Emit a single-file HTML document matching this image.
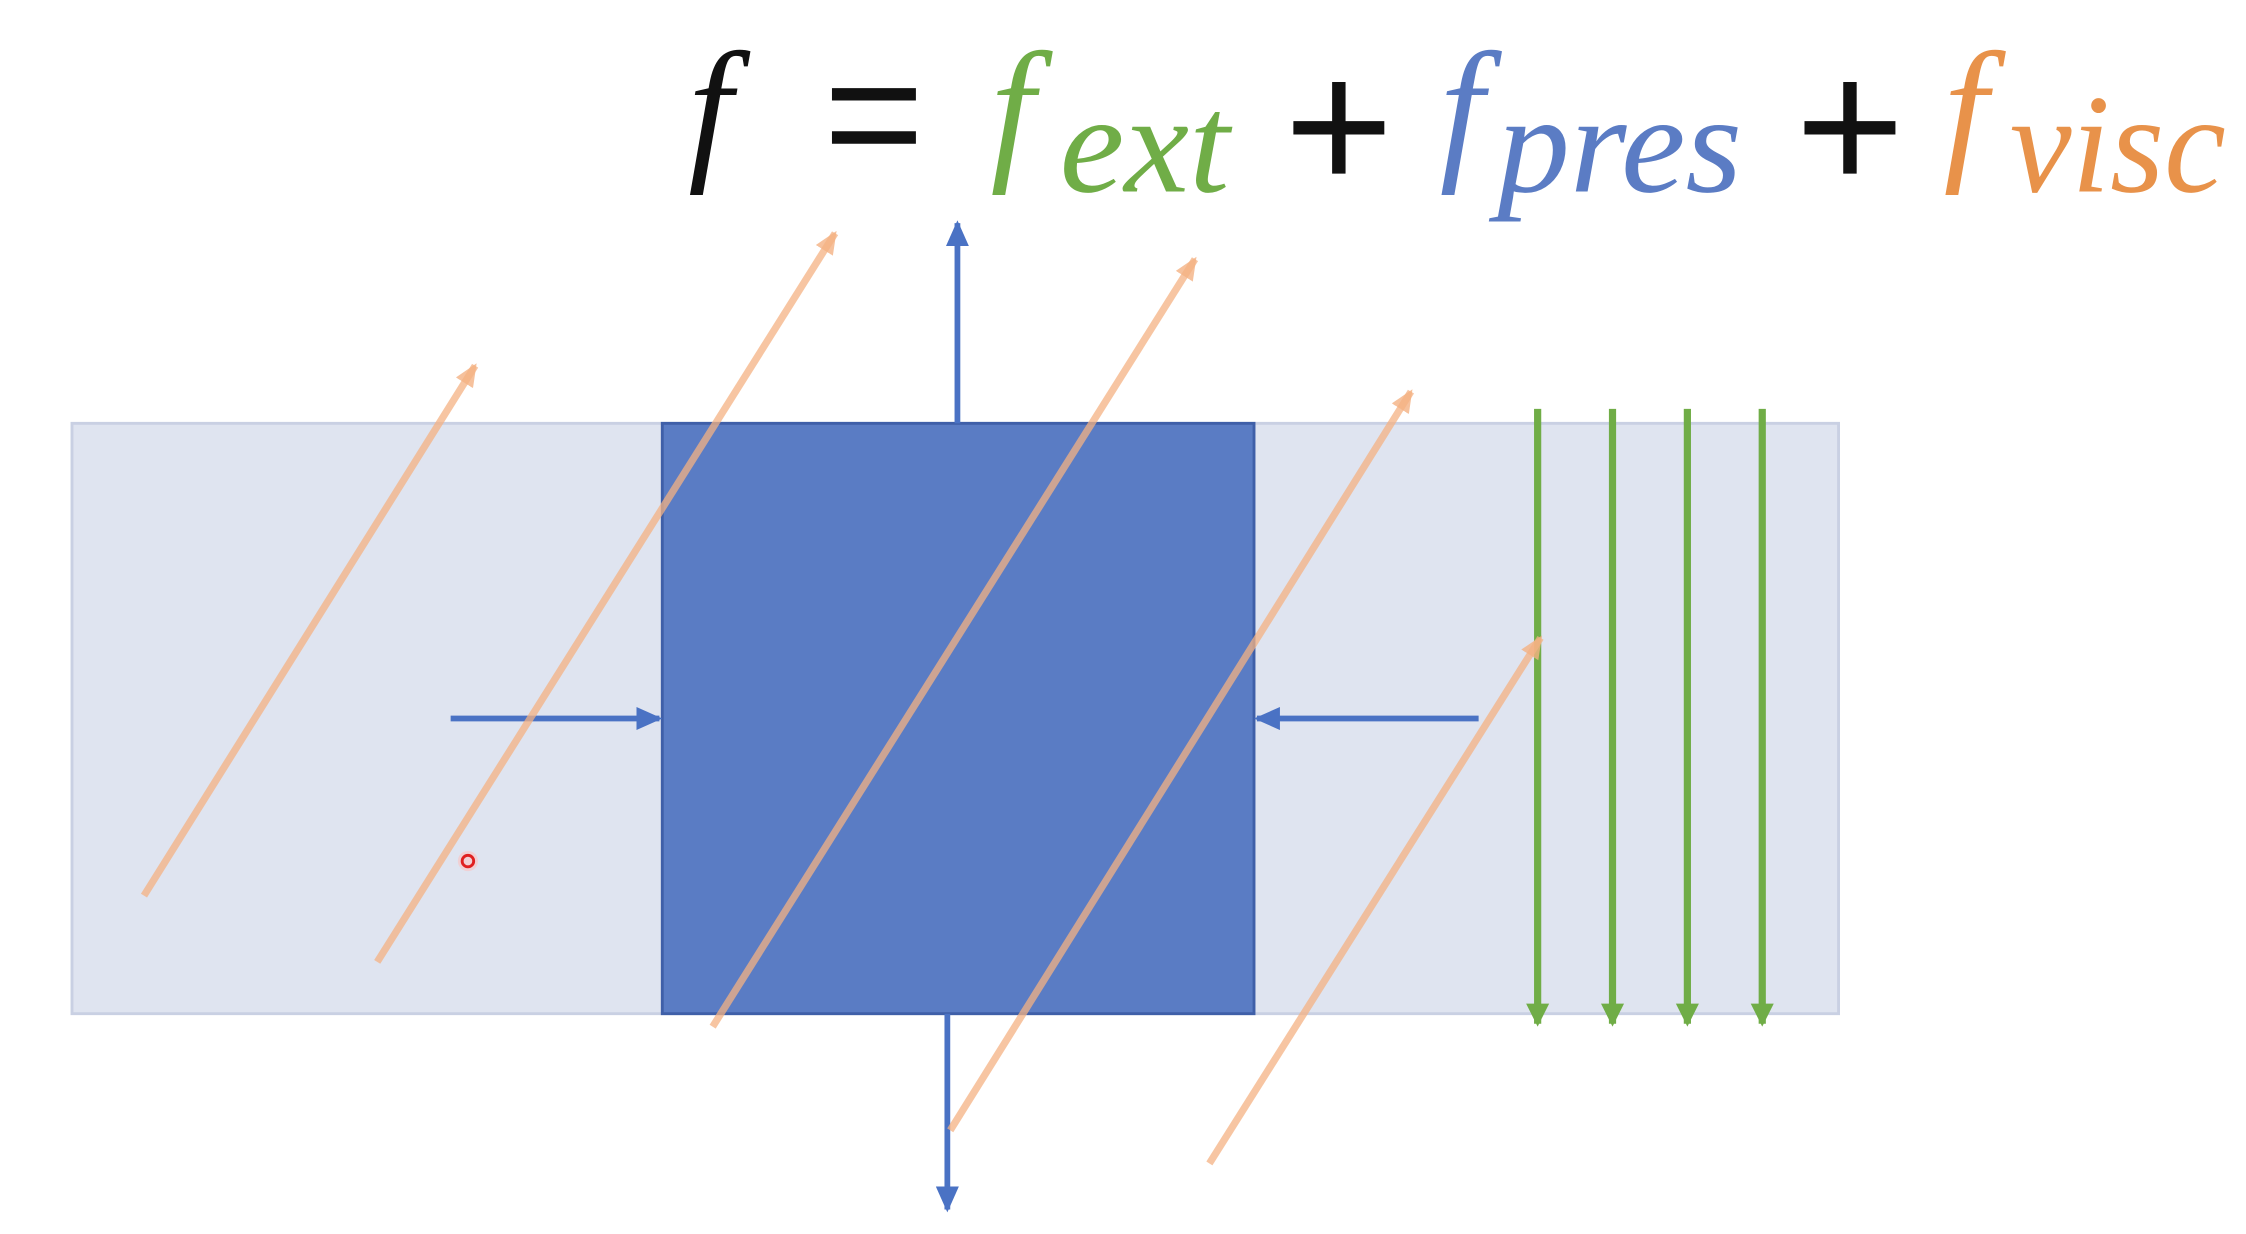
<!DOCTYPE html>
<html><head><meta charset="utf-8"><style>
html,body{margin:0;padding:0;background:#fff;}
svg{display:block;}
</style></head><body>
<svg id="fig" width="2246" height="1234" viewBox="0 0 1560 857" preserveAspectRatio="none" xmlns="http://www.w3.org/2000/svg">
<defs>
<marker id="mg" markerWidth="16" markerHeight="22" refX="14" refY="8" orient="auto" markerUnits="userSpaceOnUse" viewBox="0 0 16 16"><path d="M0,0 L16,8 L0,16 Z" fill="#70ad47"/></marker>
<marker id="mo" markerWidth="16" markerHeight="14" refX="14" refY="7" orient="auto" markerUnits="userSpaceOnUse" viewBox="0 0 16 14"><path d="M0,0 L16,7 L0,14 Z" fill="#f4b183" fill-opacity="0.8"/></marker>
<marker id="mb2" markerWidth="18" markerHeight="16" refX="16" refY="8" orient="auto" markerUnits="userSpaceOnUse" viewBox="0 0 18 16"><path d="M0,0 L18,8 L0,16 Z" fill="#4a72c4"/></marker>
</defs>
<rect x="50" y="294" width="1227" height="410" fill="#dfe4f0" stroke="#c9d0e3" stroke-width="2"/>
<rect x="460" y="294" width="411" height="410" fill="#5a7cc4" stroke="#3f5fa8" stroke-width="2"/>
<g id="blue"></g>
<g id="green"></g>
<g id="orange"></g>
<circle cx="325" cy="598" r="7" fill="#f7c7c7" fill-opacity="0.7"/>
<circle cx="325" cy="598" r="4" fill="none" stroke="#e02020" stroke-width="2"/>
<g font-family="'Liberation Serif', serif" font-style="italic">
<text x="478" y="112" font-size="110" fill="#111">f</text>
<text x="572" y="120" font-size="120" font-style="normal" font-family="'Liberation Sans', sans-serif" fill="#111">=</text>
<text x="688" y="112" font-size="110" fill="#70ad47">f</text>
<text x="736" y="133" font-size="98" fill="#70ad47" textLength="118" lengthAdjust="spacingAndGlyphs">ext</text>
<text x="892" y="132" font-size="130" font-style="normal" font-family="'Liberation Sans', sans-serif" fill="#111">+</text>
<text x="1000" y="112" font-size="110" fill="#5b7cc4">f</text>
<text x="1040" y="133" font-size="98" fill="#5b7cc4" textLength="170" lengthAdjust="spacingAndGlyphs">pres</text>
<text x="1247" y="132" font-size="130" font-style="normal" font-family="'Liberation Sans', sans-serif" fill="#111">+</text>
<text x="1350" y="112" font-size="110" fill="#e8924a">f</text>
<text x="1396" y="133" font-size="98" fill="#e8924a" textLength="150" lengthAdjust="spacingAndGlyphs">visc</text>
</g>
</svg>
<script>
const blueArrows=[[665,294,665,155],[658,704,658,840],[313,499,458,499],[1027,499,873,499]];
const greenX=[1068,1120,1172,1224];
const greenY=[284,715];
const orangeArrows=[[100,622,330,254],[262,668,580,162],[495,713,830,180],[660,785,980,272],[840,808,1070,443]];
const NS='http://www.w3.org/2000/svg';
function line(g,a,col,w,m,op){const l=document.createElementNS(NS,'line');l.setAttribute('x1',a[0]);l.setAttribute('y1',a[1]);l.setAttribute('x2',a[2]);l.setAttribute('y2',a[3]);l.setAttribute('stroke',col);l.setAttribute('stroke-width',w);l.setAttribute('marker-end','url(#'+m+')');if(op)l.setAttribute('stroke-opacity',op);document.getElementById(g).appendChild(l);return l;}
blueArrows.forEach(a=>{const l=line('blue',a,'#4a72c4',4,'mb2');

});
greenX.forEach(x=>{const l=line('green',[x,greenY[0],x,greenY[1]-4],'#70ad47',5,'mg');

});
orangeArrows.forEach(a=>{const l=line('orange',a,'#f4b183',5,'mo','0.75');

});
</script>
</body></html>
